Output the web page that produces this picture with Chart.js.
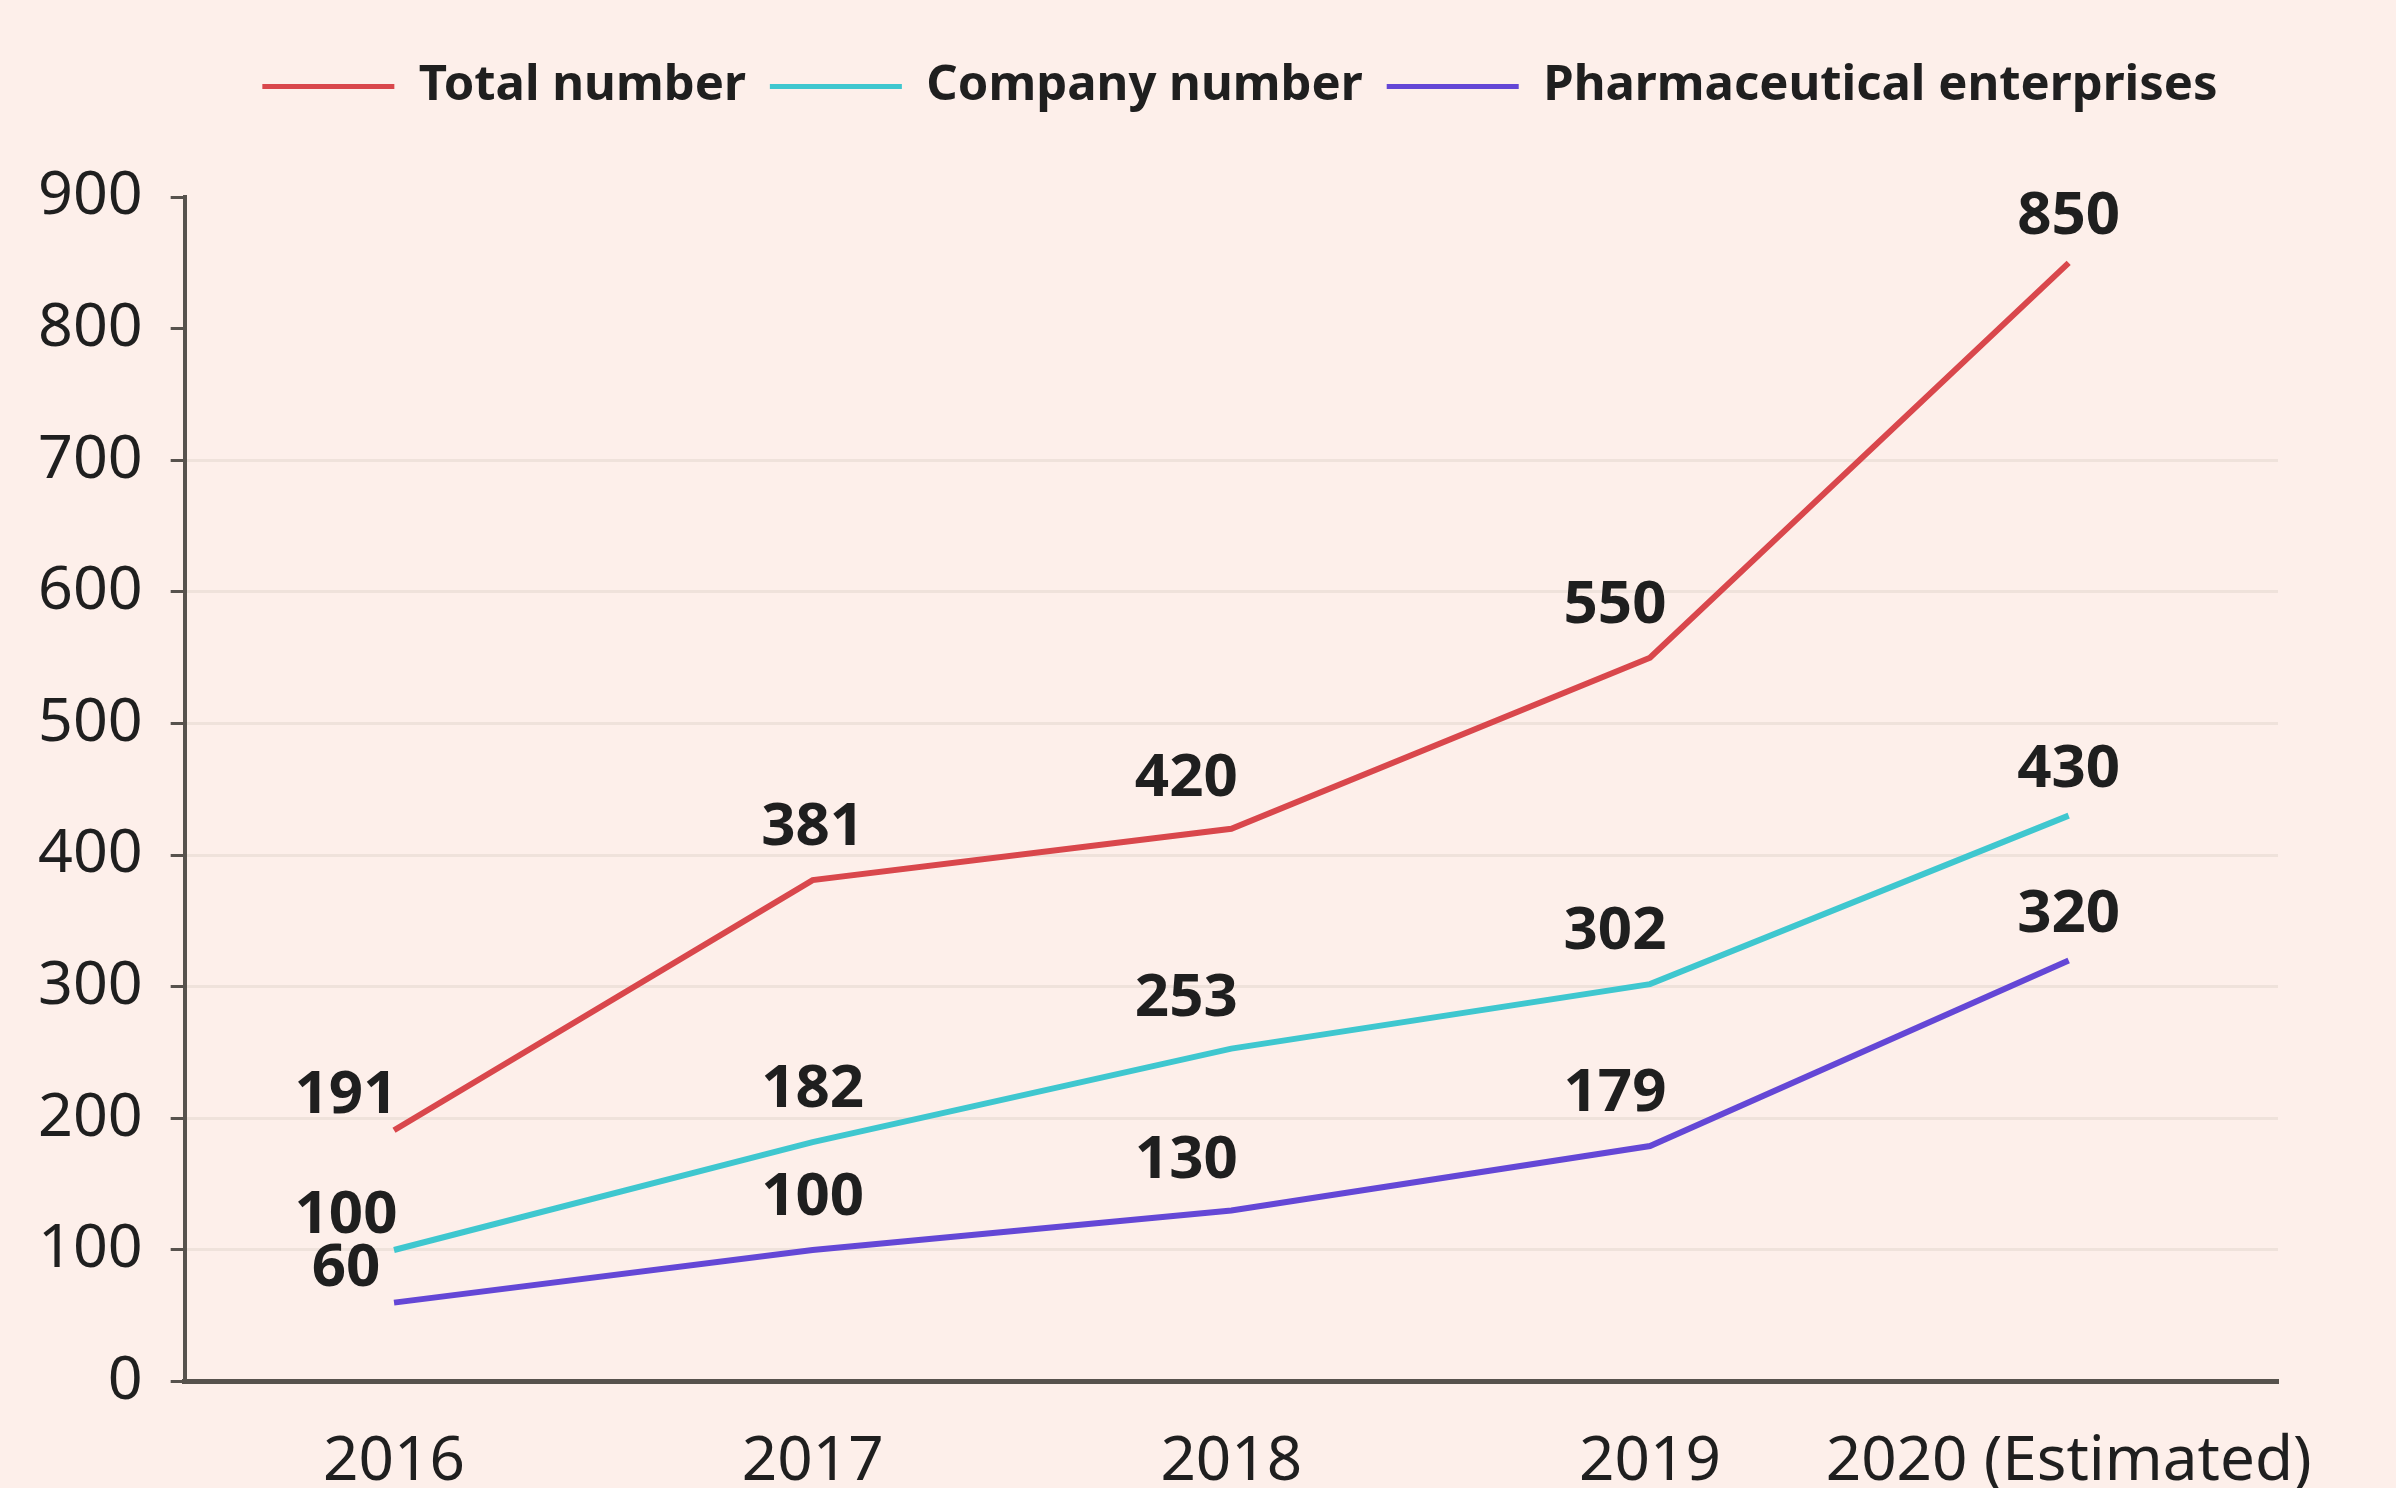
<!DOCTYPE html>
<html>
<head>
<meta charset="utf-8">
<script src="https://cdn.jsdelivr.net/npm/chart.js@4.4.0/dist/chart.umd.min.js"></script>
<style>
  html, body { margin: 0; padding: 0; background: #fdefea; overflow: hidden; }
  #wrap { width: 2396px; height: 1488px; position: relative; }
</style>
</head>
<body>
<div id="wrap"><canvas id="lineas"></canvas></div>
<script>
var years = ["2016", "2017", "2018", "2019", "2020 (Estimated)"];
var totalNumber = [191, 381, 420, 550, 850];
var companyNumber = [100, 182, 253, 302, 430];
var pharmaEnterprises = [60, 100, 130, 179, 320];
var yTicks = [0, 100, 200, 300, 400, 500, 600, 700, 800, 900];

/* etiquetas de valores */
var labelShiftX = [-48, 0, -45, -35, 0];
var labelShiftY = [-34, -52, -50, -52, -46];

var valueLabels = {
    id: 'valueLabels',
    afterDatasetsDraw: function(chart) {
        var ctx = chart.ctx;
        ctx.save();
        ctx.font = 'bold 60px "Noto Sans"';
        ctx.fillStyle = '#1f1f1f';
        ctx.textAlign = 'center';
        ctx.textBaseline = 'middle';
        chart.data.datasets.forEach(function(ds, i) {
            var meta = chart.getDatasetMeta(i);
            meta.data.forEach(function(pt, j) {
                ctx.fillText(ds.data[j], pt.x + labelShiftX[j], pt.y + labelShiftY[j]);
            });
        });
        ctx.restore();
    }
};

/* espacio bajo la leyenda y leyenda corrida a la derecha */
var legendSpace = {
    id: 'legendSpace',
    beforeInit: function(chart) {
        var origFit = chart.legend.fit;
        chart.legend.fit = function() {
            origFit.call(this);
            this.height += 76;
        };
    },
    afterLayout: function(chart) {
        chart.legend.left += 96;
        chart.legend.right += 96;
    }
};

var ctxLineas = document.getElementById("lineas");

var dataLineas = {
    labels: years,
    datasets: [{
        label: 'Total number',
        data: totalNumber,
        borderColor: '#d9474c',
        backgroundColor: '#d9474c',
        borderWidth: 6,
        pointRadius: 0,
        tension: 0
    }, {
        label: 'Company number',
        data: companyNumber,
        borderColor: '#3fc7cf',
        backgroundColor: '#3fc7cf',
        borderWidth: 6,
        pointRadius: 0,
        tension: 0
    }, {
        label: 'Pharmaceutical enterprises',
        data: pharmaEnterprises,
        borderColor: '#6447d6',
        backgroundColor: '#6447d6',
        borderWidth: 6,
        pointRadius: 0,
        tension: 0
    }]
};

var optionsLineas = {
    responsive: true,
    maintainAspectRatio: false,
    animation: false,
    layout: { padding: { top: 38, left: 10, right: 118, bottom: -56 } },
    plugins: {
        tooltip: { enabled: false },
        legend: {
            position: 'top',
            labels: {
                color: '#1f1f1f',
                font: { family: '"Noto Sans"', size: 49, weight: 'bold' },
                boxWidth: 132,
                boxHeight: 5,
                padding: 24,
                generateLabels: function(chart) {
                    var items = Chart.defaults.plugins.legend.labels.generateLabels(chart);
                    items.forEach(function(it) { it.lineWidth = 0; });
                    return items;
                }
            }
        }
    },
    scales: {
        x: {
            offset: true,
            grid: { display: false, drawTicks: false },
            border: { display: true, color: '#57524d', width: 5 },
            ticks: {
                color: '#1f1f1f',
                padding: 44,
                maxRotation: 0,
                autoSkip: false,
                font: { family: '"Noto Sans"', size: 62 }
            }
        },
        y: {
            min: 0,
            max: 900,
            afterBuildTicks: function(scale) {
                scale.ticks = yTicks.map(function(v) { return { value: v }; });
            },
            border: { display: true, color: '#57524d', width: 4 },
            grid: {
                lineWidth: 3,
                tickLength: 14,
                tickColor: '#57524d',
                tickWidth: 3,
                color: function(c) {
                    if (!c.tick) return 'rgba(0,0,0,0)';
                    return (c.tick.value === 0 || c.tick.value > 700) ? 'rgba(0,0,0,0)' : '#efe2db';
                }
            },
            ticks: {
                color: '#1f1f1f',
                padding: 28,
                font: { family: '"Noto Sans"', size: 61 }
            }
        }
    }
};

var lineas = new Chart(ctxLineas, {
    type: 'line',
    data: dataLineas,
    options: optionsLineas,
    plugins: [valueLabels, legendSpace]
});
</script>
</body>
</html>
